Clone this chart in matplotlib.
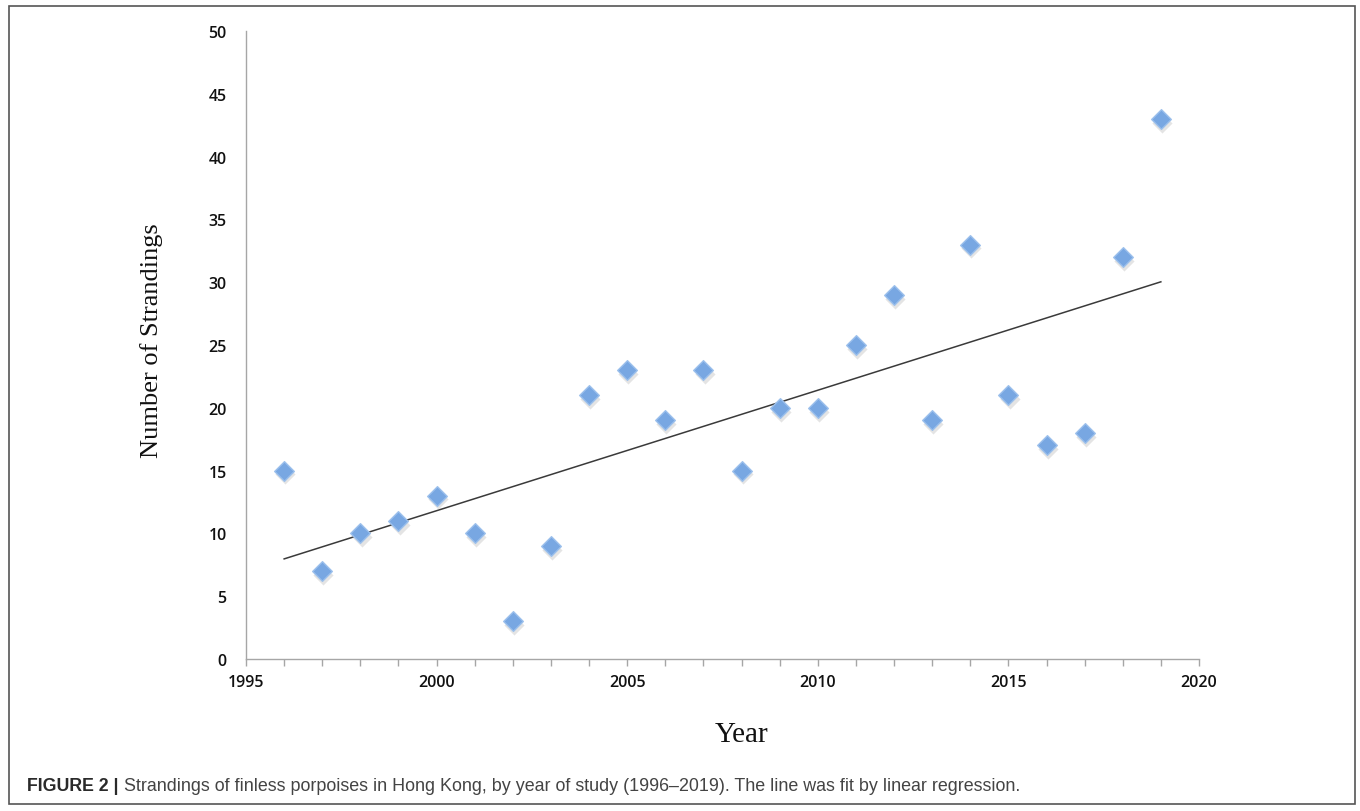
import matplotlib
matplotlib.use("Agg")
import matplotlib.pyplot as plt
import numpy as np

# strandings per year
years = np.arange(1996, 2020)
strandings = [15, 7, 10, 11, 13, 10, 3, 9, 21, 23, 19, 23,
              15, 20, 20, 25, 29, 19, 33, 21, 17, 18, 32, 43]
xticks = [1995, 2000, 2005, 2010, 2015, 2020]
yticks = [0, 5, 10, 15, 20, 25, 30, 35, 40, 45, 50]

fig = plt.figure(figsize=(13.6, 8.12), dpi=100)
ax = fig.add_axes([0.1809, 0.1872, 0.7007, 0.7734])

# linear regression line
slope, icpt = np.polyfit(years, strandings, 1)
ax.plot(years[[0, -1]], slope * years[[0, -1]] + icpt, color='#3a3a3a', lw=1.1, zorder=2)

# diamonds with a faint shadow
ax.scatter(years + 0.03, np.array(strandings) - 0.3, marker='D', s=105,
           color='#a8a8a8', alpha=0.3, linewidths=0, zorder=2)
ax.scatter(years, strandings, marker='D', s=100, facecolor='#78a7e2',
           edgecolor='#9cc0ec', linewidths=1.0, zorder=3)

ax.set_xlim(1995, 2020)
ax.set_ylim(0, 50)
ax.set_xticks(xticks)
ax.set_xticks(range(1995, 2021), minor=True)
ax.set_yticks(yticks)
for s in ['top', 'right']:
    ax.spines[s].set_visible(False)
for s in ['left', 'bottom']:
    ax.spines[s].set_color('#a6a6a6')
    ax.spines[s].set_linewidth(1.0)
ax.tick_params(axis='x', which='both', direction='out', length=5, width=1,
               color='#a6a6a6', pad=6, labelsize=11.5, labelcolor='#111111')
ax.tick_params(axis='y', length=0, pad=14, labelsize=11.5, labelcolor='#111111')
for lab in ax.get_xticklabels() + ax.get_yticklabels():
    lab.set_family('Open Sans')
    lab.set_weight('semibold')

fig.text(0.1115, 0.5800, 'Number of Strandings', rotation=90, ha='center', va='center',
         family='Liberation Serif', fontsize=19, color='#111111')
fig.text(0.5455, 0.0948, 'Year', ha='center', va='center',
         family='Liberation Serif', fontsize=21, color='#111111')

# caption
fig.text(0.0199, 0.0320, 'FIGURE 2 |', ha='left', va='center', weight='bold',
         family='Liberation Sans', fontsize=12.8, color='#2a2a2a')
fig.text(0.0912, 0.0320, 'Strandings of finless porpoises in Hong Kong, by year of study '
         '(1996\u20132019). The line was fit by linear regression.', ha='left', va='center',
         family='Liberation Sans', fontsize=12.9, color='#444444')

# outer frame
frame = matplotlib.patches.Rectangle((0.0066, 0.0086), 0.9897, 0.9828, transform=fig.transFigure,
                                     fill=False, edgecolor='#555555', lw=1.2)
fig.patches.append(frame)

fig.savefig('out.png', dpi=100, facecolor='w')
